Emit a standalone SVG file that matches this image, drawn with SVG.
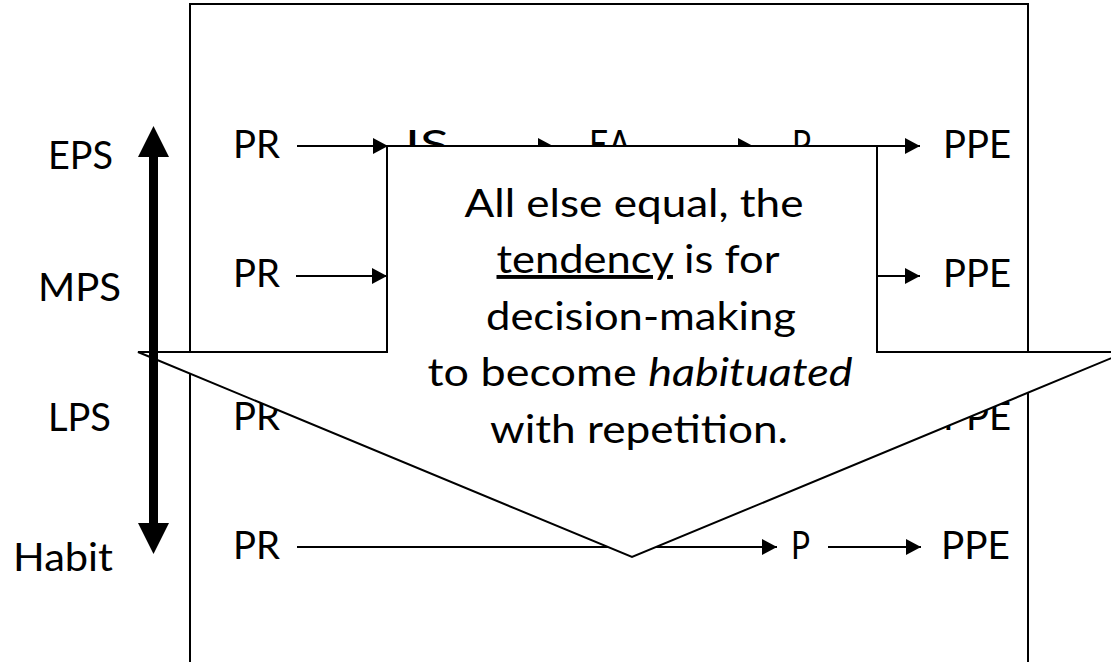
<svg xmlns="http://www.w3.org/2000/svg" width="1111" height="662" viewBox="0 0 1111 662">
  <style>
    text { font-family: Lato, "Open Sans", "Liberation Sans", sans-serif; font-size: 39px; fill: #000; }
    .frame { fill: none; stroke: #000; stroke-width: 2; }
    .conn line { stroke: #000; stroke-width: 2; marker-end: url(#head); }
    .callout { fill: #fff; stroke: #000; stroke-width: 2; stroke-linejoin: miter; }
    .mid { text-anchor: middle; }
  </style>
  <defs>
    <marker id="head" markerUnits="userSpaceOnUse" markerWidth="15" markerHeight="16" refX="15" refY="8" orient="auto">
      <path d="M0,0 L15,8 L0,16 Z" fill="#000"/>
    </marker>
  </defs>

  <rect fill="#fff" x="0" y="0" width="1111" height="662"/>

  <!-- outer frame, open at the bottom edge of the page -->
  <rect class="frame" x="190" y="4" width="838" height="700"/>

  <!-- row 1 (EPS) -->
  <g id="r1-pr"><text x="233" y="158" textLength="47" lengthAdjust="spacingAndGlyphs">PR</text></g>
  <g id="r1-is"><text x="405" y="158" textLength="44" lengthAdjust="spacingAndGlyphs">IS</text></g>
  <g id="r1-ea"><text x="589" y="158" textLength="42" lengthAdjust="spacingAndGlyphs">EA</text></g>
  <g id="r1-p"><text x="792" y="158" textLength="19" lengthAdjust="spacingAndGlyphs">P</text></g>
  <g id="r1-ppe"><text x="943" y="158" textLength="68" lengthAdjust="spacingAndGlyphs">PPE</text></g>

  <!-- row 2 (MPS) -->
  <g id="r2-pr"><text x="233" y="287" textLength="47" lengthAdjust="spacingAndGlyphs">PR</text></g>
  <g id="r2-ppe"><text x="943" y="287" textLength="68" lengthAdjust="spacingAndGlyphs">PPE</text></g>

  <!-- row 3 (LPS) -->
  <g id="r3-pr"><text x="233" y="430" textLength="47" lengthAdjust="spacingAndGlyphs">PR</text></g>
  <g id="r3-ppe"><text x="943" y="430" textLength="68" lengthAdjust="spacingAndGlyphs">PPE</text></g>

  <!-- row 4 (Habit) -->
  <g id="r4-pr"><text x="233" y="559" textLength="47" lengthAdjust="spacingAndGlyphs">PR</text></g>
  <g id="r4-p"><text x="791" y="559" textLength="19" lengthAdjust="spacingAndGlyphs">P</text></g>
  <g id="r4-ppe"><text x="941" y="559" textLength="69" lengthAdjust="spacingAndGlyphs">PPE</text></g>

  <g id="connectors" class="conn">
    <line x1="297" y1="146" x2="388" y2="146"/>
    <line x1="462" y1="146" x2="553" y2="146"/>
    <line x1="663" y1="146" x2="753" y2="146"/>
    <line x1="829" y1="146" x2="920" y2="146"/>
    <line x1="296" y1="276" x2="387" y2="276"/>
    <line x1="877" y1="276" x2="920" y2="276"/>
    <line x1="297" y1="547" x2="777" y2="547"/>
    <line x1="828" y1="547" x2="921" y2="547"/>
  </g>

  <!-- down-arrow callout laid over the rows -->
  <g id="callout">
    <path class="callout" d="M387,146 L877,146 L877,352 L1126,352 L632,557 L138,352 L387,352 Z"/>
    <text class="mid" x="634" y="217" textLength="339" lengthAdjust="spacingAndGlyphs">All else equal, the</text>
    <text class="mid" x="638" y="273" textLength="283" lengthAdjust="spacingAndGlyphs"><tspan text-decoration="underline">tendency</tspan> is for</text>
    <text class="mid" x="641" y="330" textLength="310" lengthAdjust="spacingAndGlyphs">decision-making</text>
    <text class="mid" x="640" y="386" textLength="425" lengthAdjust="spacingAndGlyphs">to become <tspan font-style="italic">habituated</tspan></text>
    <text class="mid" x="639" y="443" textLength="298" lengthAdjust="spacingAndGlyphs">with repetition.</text>
  </g>

  <!-- vertical scale: double-headed arrow with level labels -->
  <g id="scale">
    <path d="M153.5,126 L169,157 L158,157 L158,523 L169,523 L153.5,554 L138,523 L149,523 L149,157 L138,157 Z" fill="#000"/>
  </g>
  <g id="lbl-eps"><text x="48" y="169" textLength="65" lengthAdjust="spacingAndGlyphs">EPS</text></g>
  <g id="lbl-mps"><text x="38" y="301" textLength="83" lengthAdjust="spacingAndGlyphs">MPS</text></g>
  <g id="lbl-lps"><text x="48" y="431" textLength="63" lengthAdjust="spacingAndGlyphs">LPS</text></g>
  <g id="lbl-habit"><text x="13" y="571" textLength="100" lengthAdjust="spacingAndGlyphs">Habit</text></g>
</svg>
